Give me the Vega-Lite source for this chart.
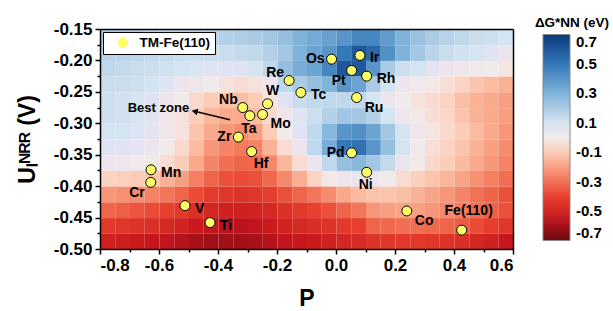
{
  "$schema": "https://vega.github.io/schema/vega-lite/v6.json",
  "width": 413,
  "height": 220,
  "autosize": {"type": "none"},
  "padding": {"left": 100, "top": 29, "right": 100, "bottom": 62},
  "background": "white",
  "config": {
    "locale": {"number": {"decimal": ".", "thousands": ",", "grouping": [3], "currency": ["$", ""], "minus": "-"}},
    "view": {"stroke": null},
    "font": "Liberation Sans",
    "axis": {
      "labelFont": "Liberation Sans", "labelFontWeight": "bold", "labelFontSize": 17, "labelColor": "black",
      "tickColor": "black", "tickWidth": 1.5, "domainColor": "black", "domainWidth": 1.5,
      "titleFont": "Liberation Sans", "titleFontWeight": "bold", "titleColor": "black", "grid": false
    },
    "legend": {"labelFont": "Liberation Sans", "labelFontWeight": "bold", "labelColor": "black", "titleFont": "Liberation Sans", "titleFontWeight": "bold", "titleColor": "black"}
  },
  "datasets": {
    "grid": [
{"p":-0.775,"u":-0.1625,"g":0.2},{"p":-0.725,"u":-0.1625,"g":0.2},{"p":-0.675,"u":-0.1625,"g":0.19},{"p":-0.625,"u":-0.1625,"g":0.18},{"p":-0.575,"u":-0.1625,"g":0.17},{"p":-0.525,"u":-0.1625,"g":0.17},{"p":-0.475,"u":-0.1625,"g":0.17},{"p":-0.425,"u":-0.1625,"g":0.17},{"p":-0.375,"u":-0.1625,"g":0.18},{"p":-0.325,"u":-0.1625,"g":0.19},{"p":-0.275,"u":-0.1625,"g":0.2},{"p":-0.225,"u":-0.1625,"g":0.22},{"p":-0.175,"u":-0.1625,"g":0.25},{"p":-0.125,"u":-0.1625,"g":0.3},{"p":-0.075,"u":-0.1625,"g":0.33},{"p":-0.025,"u":-0.1625,"g":0.36},{"p":0.025,"u":-0.1625,"g":0.4},{"p":0.075,"u":-0.1625,"g":0.45},{"p":0.125,"u":-0.1625,"g":0.45},{"p":0.175,"u":-0.1625,"g":0.38},{"p":0.225,"u":-0.1625,"g":0.3},{"p":0.275,"u":-0.1625,"g":0.24},{"p":0.325,"u":-0.1625,"g":0.2},{"p":0.375,"u":-0.1625,"g":0.17},{"p":0.425,"u":-0.1625,"g":0.15},{"p":0.475,"u":-0.1625,"g":0.13},{"p":0.525,"u":-0.1625,"g":0.12},{"p":0.575,"u":-0.1625,"g":0.1},
{"p":-0.775,"u":-0.1875,"g":0.17},{"p":-0.725,"u":-0.1875,"g":0.17},{"p":-0.675,"u":-0.1875,"g":0.16},{"p":-0.625,"u":-0.1875,"g":0.15},{"p":-0.575,"u":-0.1875,"g":0.14},{"p":-0.525,"u":-0.1875,"g":0.13},{"p":-0.475,"u":-0.1875,"g":0.13},{"p":-0.425,"u":-0.1875,"g":0.13},{"p":-0.375,"u":-0.1875,"g":0.13},{"p":-0.325,"u":-0.1875,"g":0.14},{"p":-0.275,"u":-0.1875,"g":0.15},{"p":-0.225,"u":-0.1875,"g":0.18},{"p":-0.175,"u":-0.1875,"g":0.22},{"p":-0.125,"u":-0.1875,"g":0.3},{"p":-0.075,"u":-0.1875,"g":0.35},{"p":-0.025,"u":-0.1875,"g":0.4},{"p":0.025,"u":-0.1875,"g":0.5},{"p":0.075,"u":-0.1875,"g":0.6},{"p":0.125,"u":-0.1875,"g":0.55},{"p":0.175,"u":-0.1875,"g":0.42},{"p":0.225,"u":-0.1875,"g":0.3},{"p":0.275,"u":-0.1875,"g":0.22},{"p":0.325,"u":-0.1875,"g":0.16},{"p":0.375,"u":-0.1875,"g":0.13},{"p":0.425,"u":-0.1875,"g":0.11},{"p":0.475,"u":-0.1875,"g":0.1},{"p":0.525,"u":-0.1875,"g":0.08},{"p":0.575,"u":-0.1875,"g":0.06},
{"p":-0.775,"u":-0.2125,"g":0.15},{"p":-0.725,"u":-0.2125,"g":0.14},{"p":-0.675,"u":-0.2125,"g":0.13},{"p":-0.625,"u":-0.2125,"g":0.12},{"p":-0.575,"u":-0.2125,"g":0.11},{"p":-0.525,"u":-0.2125,"g":0.1},{"p":-0.475,"u":-0.2125,"g":0.09},{"p":-0.425,"u":-0.2125,"g":0.08},{"p":-0.375,"u":-0.2125,"g":0.08},{"p":-0.325,"u":-0.2125,"g":0.08},{"p":-0.275,"u":-0.2125,"g":0.1},{"p":-0.225,"u":-0.2125,"g":0.15},{"p":-0.175,"u":-0.2125,"g":0.25},{"p":-0.125,"u":-0.2125,"g":0.32},{"p":-0.075,"u":-0.2125,"g":0.35},{"p":-0.025,"u":-0.2125,"g":0.45},{"p":0.025,"u":-0.2125,"g":0.6},{"p":0.075,"u":-0.2125,"g":0.6},{"p":0.125,"u":-0.2125,"g":0.4},{"p":0.175,"u":-0.2125,"g":0.2},{"p":0.225,"u":-0.2125,"g":0.12},{"p":0.275,"u":-0.2125,"g":0.1},{"p":0.325,"u":-0.2125,"g":0.07},{"p":0.375,"u":-0.2125,"g":0.05},{"p":0.425,"u":-0.2125,"g":0.03},{"p":0.475,"u":-0.2125,"g":0.01},{"p":0.525,"u":-0.2125,"g":0},{"p":0.575,"u":-0.2125,"g":-0.02},
{"p":-0.775,"u":-0.2375,"g":0.13},{"p":-0.725,"u":-0.2375,"g":0.13},{"p":-0.675,"u":-0.2375,"g":0.12},{"p":-0.625,"u":-0.2375,"g":0.1},{"p":-0.575,"u":-0.2375,"g":0.08},{"p":-0.525,"u":-0.2375,"g":0.05},{"p":-0.475,"u":-0.2375,"g":0.03},{"p":-0.425,"u":-0.2375,"g":0},{"p":-0.375,"u":-0.2375,"g":-0.03},{"p":-0.325,"u":-0.2375,"g":-0.05},{"p":-0.275,"u":-0.2375,"g":-0.03},{"p":-0.225,"u":-0.2375,"g":0.05},{"p":-0.175,"u":-0.2375,"g":0.15},{"p":-0.125,"u":-0.2375,"g":0.2},{"p":-0.075,"u":-0.2375,"g":0.25},{"p":-0.025,"u":-0.2375,"g":0.3},{"p":0.025,"u":-0.2375,"g":0.4},{"p":0.075,"u":-0.2375,"g":0.35},{"p":0.125,"u":-0.2375,"g":0.2},{"p":0.175,"u":-0.2375,"g":0.1},{"p":0.225,"u":-0.2375,"g":0.05},{"p":0.275,"u":-0.2375,"g":0.02},{"p":0.325,"u":-0.2375,"g":-0.01},{"p":0.375,"u":-0.2375,"g":-0.04},{"p":0.425,"u":-0.2375,"g":-0.08},{"p":0.475,"u":-0.2375,"g":-0.12},{"p":0.525,"u":-0.2375,"g":-0.14},{"p":0.575,"u":-0.2375,"g":-0.16},
{"p":-0.775,"u":-0.2625,"g":0.12},{"p":-0.725,"u":-0.2625,"g":0.11},{"p":-0.675,"u":-0.2625,"g":0.1},{"p":-0.625,"u":-0.2625,"g":0.08},{"p":-0.575,"u":-0.2625,"g":0.04},{"p":-0.525,"u":-0.2625,"g":0},{"p":-0.475,"u":-0.2625,"g":-0.06},{"p":-0.425,"u":-0.2625,"g":-0.1},{"p":-0.375,"u":-0.2625,"g":-0.13},{"p":-0.325,"u":-0.2625,"g":-0.13},{"p":-0.275,"u":-0.2625,"g":-0.1},{"p":-0.225,"u":-0.2625,"g":-0.02},{"p":-0.175,"u":-0.2625,"g":0.08},{"p":-0.125,"u":-0.2625,"g":0.13},{"p":-0.075,"u":-0.2625,"g":0.15},{"p":-0.025,"u":-0.2625,"g":0.15},{"p":0.025,"u":-0.2625,"g":0.15},{"p":0.075,"u":-0.2625,"g":0.15},{"p":0.125,"u":-0.2625,"g":0.1},{"p":0.175,"u":-0.2625,"g":0.05},{"p":0.225,"u":-0.2625,"g":0},{"p":0.275,"u":-0.2625,"g":-0.03},{"p":0.325,"u":-0.2625,"g":-0.05},{"p":0.375,"u":-0.2625,"g":-0.08},{"p":0.425,"u":-0.2625,"g":-0.13},{"p":0.475,"u":-0.2625,"g":-0.16},{"p":0.525,"u":-0.2625,"g":-0.18},{"p":0.575,"u":-0.2625,"g":-0.2},
{"p":-0.775,"u":-0.2875,"g":0.12},{"p":-0.725,"u":-0.2875,"g":0.11},{"p":-0.675,"u":-0.2875,"g":0.1},{"p":-0.625,"u":-0.2875,"g":0.07},{"p":-0.575,"u":-0.2875,"g":0.03},{"p":-0.525,"u":-0.2875,"g":-0.03},{"p":-0.475,"u":-0.2875,"g":-0.1},{"p":-0.425,"u":-0.2875,"g":-0.15},{"p":-0.375,"u":-0.2875,"g":-0.18},{"p":-0.325,"u":-0.2875,"g":-0.18},{"p":-0.275,"u":-0.2875,"g":-0.14},{"p":-0.225,"u":-0.2875,"g":-0.06},{"p":-0.175,"u":-0.2875,"g":0.03},{"p":-0.125,"u":-0.2875,"g":0.08},{"p":-0.075,"u":-0.2875,"g":0.12},{"p":-0.025,"u":-0.2875,"g":0.18},{"p":0.025,"u":-0.2875,"g":0.22},{"p":0.075,"u":-0.2875,"g":0.22},{"p":0.125,"u":-0.2875,"g":0.18},{"p":0.175,"u":-0.2875,"g":0.1},{"p":0.225,"u":-0.2875,"g":0.04},{"p":0.275,"u":-0.2875,"g":-0.01},{"p":0.325,"u":-0.2875,"g":-0.04},{"p":0.375,"u":-0.2875,"g":-0.07},{"p":0.425,"u":-0.2875,"g":-0.12},{"p":0.475,"u":-0.2875,"g":-0.16},{"p":0.525,"u":-0.2875,"g":-0.18},{"p":0.575,"u":-0.2875,"g":-0.2},
{"p":-0.775,"u":-0.3125,"g":0.1},{"p":-0.725,"u":-0.3125,"g":0.1},{"p":-0.675,"u":-0.3125,"g":0.09},{"p":-0.625,"u":-0.3125,"g":0.07},{"p":-0.575,"u":-0.3125,"g":0.03},{"p":-0.525,"u":-0.3125,"g":-0.03},{"p":-0.475,"u":-0.3125,"g":-0.12},{"p":-0.425,"u":-0.3125,"g":-0.18},{"p":-0.375,"u":-0.3125,"g":-0.22},{"p":-0.325,"u":-0.3125,"g":-0.24},{"p":-0.275,"u":-0.3125,"g":-0.2},{"p":-0.225,"u":-0.3125,"g":-0.1},{"p":-0.175,"u":-0.3125,"g":0},{"p":-0.125,"u":-0.3125,"g":0.08},{"p":-0.075,"u":-0.3125,"g":0.15},{"p":-0.025,"u":-0.3125,"g":0.28},{"p":0.025,"u":-0.3125,"g":0.4},{"p":0.075,"u":-0.3125,"g":0.42},{"p":0.125,"u":-0.3125,"g":0.35},{"p":0.175,"u":-0.3125,"g":0.22},{"p":0.225,"u":-0.3125,"g":0.1},{"p":0.275,"u":-0.3125,"g":0.03},{"p":0.325,"u":-0.3125,"g":-0.02},{"p":0.375,"u":-0.3125,"g":-0.06},{"p":0.425,"u":-0.3125,"g":-0.1},{"p":0.475,"u":-0.3125,"g":-0.14},{"p":0.525,"u":-0.3125,"g":-0.18},{"p":0.575,"u":-0.3125,"g":-0.22},
{"p":-0.775,"u":-0.3375,"g":0.08},{"p":-0.725,"u":-0.3375,"g":0.08},{"p":-0.675,"u":-0.3375,"g":0.07},{"p":-0.625,"u":-0.3375,"g":0.05},{"p":-0.575,"u":-0.3375,"g":0},{"p":-0.525,"u":-0.3375,"g":-0.06},{"p":-0.475,"u":-0.3375,"g":-0.14},{"p":-0.425,"u":-0.3375,"g":-0.22},{"p":-0.375,"u":-0.3375,"g":-0.26},{"p":-0.325,"u":-0.3375,"g":-0.28},{"p":-0.275,"u":-0.3375,"g":-0.26},{"p":-0.225,"u":-0.3375,"g":-0.16},{"p":-0.175,"u":-0.3375,"g":-0.05},{"p":-0.125,"u":-0.3375,"g":0.05},{"p":-0.075,"u":-0.3375,"g":0.15},{"p":-0.025,"u":-0.3375,"g":0.32},{"p":0.025,"u":-0.3375,"g":0.5},{"p":0.075,"u":-0.3375,"g":0.52},{"p":0.125,"u":-0.3375,"g":0.4},{"p":0.175,"u":-0.3375,"g":0.25},{"p":0.225,"u":-0.3375,"g":0.1},{"p":0.275,"u":-0.3375,"g":0.02},{"p":0.325,"u":-0.3375,"g":-0.04},{"p":0.375,"u":-0.3375,"g":-0.08},{"p":0.425,"u":-0.3375,"g":-0.12},{"p":0.475,"u":-0.3375,"g":-0.16},{"p":0.525,"u":-0.3375,"g":-0.2},{"p":0.575,"u":-0.3375,"g":-0.24},
{"p":-0.775,"u":-0.3625,"g":0.05},{"p":-0.725,"u":-0.3625,"g":0.04},{"p":-0.675,"u":-0.3625,"g":0.02},{"p":-0.625,"u":-0.3625,"g":-0.01},{"p":-0.575,"u":-0.3625,"g":-0.05},{"p":-0.525,"u":-0.3625,"g":-0.1},{"p":-0.475,"u":-0.3625,"g":-0.18},{"p":-0.425,"u":-0.3625,"g":-0.26},{"p":-0.375,"u":-0.3625,"g":-0.31},{"p":-0.325,"u":-0.3625,"g":-0.33},{"p":-0.275,"u":-0.3625,"g":-0.32},{"p":-0.225,"u":-0.3625,"g":-0.25},{"p":-0.175,"u":-0.3625,"g":-0.15},{"p":-0.125,"u":-0.3625,"g":-0.05},{"p":-0.075,"u":-0.3625,"g":0.05},{"p":-0.025,"u":-0.3625,"g":0.15},{"p":0.025,"u":-0.3625,"g":0.25},{"p":0.075,"u":-0.3625,"g":0.28},{"p":0.125,"u":-0.3625,"g":0.22},{"p":0.175,"u":-0.3625,"g":0.14},{"p":0.225,"u":-0.3625,"g":0.06},{"p":0.275,"u":-0.3625,"g":-0.01},{"p":0.325,"u":-0.3625,"g":-0.06},{"p":0.375,"u":-0.3625,"g":-0.1},{"p":0.425,"u":-0.3625,"g":-0.14},{"p":0.475,"u":-0.3625,"g":-0.18},{"p":0.525,"u":-0.3625,"g":-0.22},{"p":0.575,"u":-0.3625,"g":-0.26},
{"p":-0.775,"u":-0.3875,"g":-0.08},{"p":-0.725,"u":-0.3875,"g":-0.09},{"p":-0.675,"u":-0.3875,"g":-0.1},{"p":-0.625,"u":-0.3875,"g":-0.12},{"p":-0.575,"u":-0.3875,"g":-0.16},{"p":-0.525,"u":-0.3875,"g":-0.2},{"p":-0.475,"u":-0.3875,"g":-0.27},{"p":-0.425,"u":-0.3875,"g":-0.33},{"p":-0.375,"u":-0.3875,"g":-0.37},{"p":-0.325,"u":-0.3875,"g":-0.38},{"p":-0.275,"u":-0.3875,"g":-0.37},{"p":-0.225,"u":-0.3875,"g":-0.32},{"p":-0.175,"u":-0.3875,"g":-0.25},{"p":-0.125,"u":-0.3875,"g":-0.17},{"p":-0.075,"u":-0.3875,"g":-0.08},{"p":-0.025,"u":-0.3875,"g":-0.01},{"p":0.025,"u":-0.3875,"g":0.05},{"p":0.075,"u":-0.3875,"g":0.06},{"p":0.125,"u":-0.3875,"g":0.04},{"p":0.175,"u":-0.3875,"g":0},{"p":0.225,"u":-0.3875,"g":-0.05},{"p":0.275,"u":-0.3875,"g":-0.09},{"p":0.325,"u":-0.3875,"g":-0.12},{"p":0.375,"u":-0.3875,"g":-0.15},{"p":0.425,"u":-0.3875,"g":-0.19},{"p":0.475,"u":-0.3875,"g":-0.23},{"p":0.525,"u":-0.3875,"g":-0.27},{"p":0.575,"u":-0.3875,"g":-0.31},
{"p":-0.775,"u":-0.4125,"g":-0.22},{"p":-0.725,"u":-0.4125,"g":-0.23},{"p":-0.675,"u":-0.4125,"g":-0.24},{"p":-0.625,"u":-0.4125,"g":-0.26},{"p":-0.575,"u":-0.4125,"g":-0.29},{"p":-0.525,"u":-0.4125,"g":-0.33},{"p":-0.475,"u":-0.4125,"g":-0.38},{"p":-0.425,"u":-0.4125,"g":-0.42},{"p":-0.375,"u":-0.4125,"g":-0.44},{"p":-0.325,"u":-0.4125,"g":-0.45},{"p":-0.275,"u":-0.4125,"g":-0.44},{"p":-0.225,"u":-0.4125,"g":-0.41},{"p":-0.175,"u":-0.4125,"g":-0.37},{"p":-0.125,"u":-0.4125,"g":-0.33},{"p":-0.075,"u":-0.4125,"g":-0.29},{"p":-0.025,"u":-0.4125,"g":-0.24},{"p":0.025,"u":-0.4125,"g":-0.18},{"p":0.075,"u":-0.4125,"g":-0.14},{"p":0.125,"u":-0.4125,"g":-0.12},{"p":0.175,"u":-0.4125,"g":-0.12},{"p":0.225,"u":-0.4125,"g":-0.13},{"p":0.275,"u":-0.4125,"g":-0.16},{"p":0.325,"u":-0.4125,"g":-0.19},{"p":0.375,"u":-0.4125,"g":-0.22},{"p":0.425,"u":-0.4125,"g":-0.26},{"p":0.475,"u":-0.4125,"g":-0.3},{"p":0.525,"u":-0.4125,"g":-0.33},{"p":0.575,"u":-0.4125,"g":-0.37},
{"p":-0.775,"u":-0.4375,"g":-0.33},{"p":-0.725,"u":-0.4375,"g":-0.34},{"p":-0.675,"u":-0.4375,"g":-0.36},{"p":-0.625,"u":-0.4375,"g":-0.38},{"p":-0.575,"u":-0.4375,"g":-0.4},{"p":-0.525,"u":-0.4375,"g":-0.43},{"p":-0.475,"u":-0.4375,"g":-0.47},{"p":-0.425,"u":-0.4375,"g":-0.5},{"p":-0.375,"u":-0.4375,"g":-0.52},{"p":-0.325,"u":-0.4375,"g":-0.52},{"p":-0.275,"u":-0.4375,"g":-0.51},{"p":-0.225,"u":-0.4375,"g":-0.49},{"p":-0.175,"u":-0.4375,"g":-0.46},{"p":-0.125,"u":-0.4375,"g":-0.43},{"p":-0.075,"u":-0.4375,"g":-0.4},{"p":-0.025,"u":-0.4375,"g":-0.37},{"p":0.025,"u":-0.4375,"g":-0.33},{"p":0.075,"u":-0.4375,"g":-0.29},{"p":0.125,"u":-0.4375,"g":-0.22},{"p":0.175,"u":-0.4375,"g":-0.2},{"p":0.225,"u":-0.4375,"g":-0.19},{"p":0.275,"u":-0.4375,"g":-0.2},{"p":0.325,"u":-0.4375,"g":-0.22},{"p":0.375,"u":-0.4375,"g":-0.25},{"p":0.425,"u":-0.4375,"g":-0.28},{"p":0.475,"u":-0.4375,"g":-0.31},{"p":0.525,"u":-0.4375,"g":-0.34},{"p":0.575,"u":-0.4375,"g":-0.37},
{"p":-0.775,"u":-0.4625,"g":-0.43},{"p":-0.725,"u":-0.4625,"g":-0.44},{"p":-0.675,"u":-0.4625,"g":-0.45},{"p":-0.625,"u":-0.4625,"g":-0.47},{"p":-0.575,"u":-0.4625,"g":-0.49},{"p":-0.525,"u":-0.4625,"g":-0.51},{"p":-0.475,"u":-0.4625,"g":-0.54},{"p":-0.425,"u":-0.4625,"g":-0.56},{"p":-0.375,"u":-0.4625,"g":-0.57},{"p":-0.325,"u":-0.4625,"g":-0.57},{"p":-0.275,"u":-0.4625,"g":-0.56},{"p":-0.225,"u":-0.4625,"g":-0.54},{"p":-0.175,"u":-0.4625,"g":-0.51},{"p":-0.125,"u":-0.4625,"g":-0.49},{"p":-0.075,"u":-0.4625,"g":-0.47},{"p":-0.025,"u":-0.4625,"g":-0.45},{"p":0.025,"u":-0.4625,"g":-0.43},{"p":0.075,"u":-0.4625,"g":-0.4},{"p":0.125,"u":-0.4625,"g":-0.33},{"p":0.175,"u":-0.4625,"g":-0.32},{"p":0.225,"u":-0.4625,"g":-0.31},{"p":0.275,"u":-0.4625,"g":-0.31},{"p":0.325,"u":-0.4625,"g":-0.32},{"p":0.375,"u":-0.4625,"g":-0.33},{"p":0.425,"u":-0.4625,"g":-0.35},{"p":0.475,"u":-0.4625,"g":-0.38},{"p":0.525,"u":-0.4625,"g":-0.41},{"p":0.575,"u":-0.4625,"g":-0.44},
{"p":-0.775,"u":-0.4875,"g":-0.52},{"p":-0.725,"u":-0.4875,"g":-0.53},{"p":-0.675,"u":-0.4875,"g":-0.54},{"p":-0.625,"u":-0.4875,"g":-0.55},{"p":-0.575,"u":-0.4875,"g":-0.56},{"p":-0.525,"u":-0.4875,"g":-0.58},{"p":-0.475,"u":-0.4875,"g":-0.6},{"p":-0.425,"u":-0.4875,"g":-0.61},{"p":-0.375,"u":-0.4875,"g":-0.61},{"p":-0.325,"u":-0.4875,"g":-0.61},{"p":-0.275,"u":-0.4875,"g":-0.6},{"p":-0.225,"u":-0.4875,"g":-0.58},{"p":-0.175,"u":-0.4875,"g":-0.56},{"p":-0.125,"u":-0.4875,"g":-0.55},{"p":-0.075,"u":-0.4875,"g":-0.54},{"p":-0.025,"u":-0.4875,"g":-0.52},{"p":0.025,"u":-0.4875,"g":-0.5},{"p":0.075,"u":-0.4875,"g":-0.48},{"p":0.125,"u":-0.4875,"g":-0.45},{"p":0.175,"u":-0.4875,"g":-0.44},{"p":0.225,"u":-0.4875,"g":-0.43},{"p":0.275,"u":-0.4875,"g":-0.43},{"p":0.325,"u":-0.4875,"g":-0.44},{"p":0.375,"u":-0.4875,"g":-0.45},{"p":0.425,"u":-0.4875,"g":-0.47},{"p":0.475,"u":-0.4875,"g":-0.5},{"p":0.525,"u":-0.4875,"g":-0.52},{"p":0.575,"u":-0.4875,"g":-0.55}
    ],
    "elements": [
      {"name": "Os", "p": -0.015, "u": -0.198},
      {"name": "Ir", "p": 0.081, "u": -0.192},
      {"name": "Pt", "p": 0.053, "u": -0.216},
      {"name": "Rh", "p": 0.104, "u": -0.225},
      {"name": "Ru", "p": 0.07, "u": -0.259},
      {"name": "Tc", "p": -0.119, "u": -0.251},
      {"name": "Re", "p": -0.159, "u": -0.232},
      {"name": "W", "p": -0.232, "u": -0.269},
      {"name": "Nb", "p": -0.316, "u": -0.275},
      {"name": "Ta", "p": -0.292, "u": -0.288},
      {"name": "Mo", "p": -0.249, "u": -0.286},
      {"name": "Zr", "p": -0.331, "u": -0.322},
      {"name": "Hf", "p": -0.286, "u": -0.345},
      {"name": "Mn", "p": -0.627, "u": -0.374},
      {"name": "Cr", "p": -0.628, "u": -0.394},
      {"name": "V", "p": -0.512, "u": -0.431},
      {"name": "Ti", "p": -0.427, "u": -0.458},
      {"name": "Pd", "p": 0.053, "u": -0.347},
      {"name": "Ni", "p": 0.104, "u": -0.378},
      {"name": "Co", "p": 0.24, "u": -0.4395},
      {"name": "Fe(110)", "p": 0.426, "u": -0.47}
    ],
    "arrow": [{"p": -0.3593, "u": -0.2943, "p2": -0.476, "u2": -0.2814}],
    "note": [{"p": -0.602, "u": -0.276, "text": "Best zone"}]
  },
  "resolve": {"axis": {"x": "independent", "y": "independent"}},
  "layer": [
    {
      "data": {"name": "grid"},
      "mark": {"type": "rect"},
      "encoding": {
        "x": {"field": "p", "type": "quantitative", "bin": {"step": 0.05, "extent": [-0.8, 0.6]},
              "scale": {"domain": [-0.8, 0.6], "nice": false, "zero": false},
              "axis": {"orient": "bottom", "values": [-0.7, -0.5, -0.3, -0.1, 0.1, 0.3, 0.5], "labels": false, "domain": false, "tickSize": 3, "title": null, "zindex": 1}},
        "y": {"field": "u", "type": "quantitative", "bin": {"step": 0.025, "extent": [-0.5, -0.15]},
              "scale": {"domain": [-0.5, -0.15], "nice": false, "zero": false},
              "axis": {"orient": "left", "values": [-0.475, -0.425, -0.375, -0.325, -0.275, -0.225, -0.175], "labels": false, "domain": false, "tickSize": 3, "title": null, "zindex": 1}},
        "color": {"field": "g", "type": "quantitative",
          "scale": {"domain": [-0.7, -0.55, -0.4, -0.25, -0.1, 0, 0.1, 0.3, 0.5, 0.7],
                    "range": ["#6b0a12", "#c8161d", "#e8402f", "#f5876b", "#fbcdb7", "#f0ebea", "#d5e4f1", "#7fb3d9", "#3478b8", "#0a3a7c"]},
          "legend": {"orient": "none", "legendX": 435, "legendY": -13, "direction": "vertical", "title": "ΔG*NN (eV)",
                     "titleFontSize": 13.5, "titleAnchor": "middle", "titlePadding": 5, "titleLimit": 120, "gradientLength": 206, "gradientThickness": 27,
                     "gradientStrokeColor": "#888", "gradientStrokeWidth": 1, "values": [-0.7, -0.5, -0.3, -0.1, 0.1, 0.3, 0.5, 0.7],
                     "format": ".1f", "labelFontSize": 15, "labelOffset": 6}}
      }
    },
    {
      "data": {"name": "arrow"},
      "mark": {"type": "rule", "color": "black", "strokeWidth": 1.5},
      "encoding": {
        "x": {"field": "p", "type": "quantitative", "axis": null},
        "y": {"field": "u", "type": "quantitative", "axis": null},
        "x2": {"field": "p2"},
        "y2": {"field": "u2"}
      }
    },
    {
      "data": {"name": "arrow"},
      "mark": {"type": "point", "shape": "triangle", "angle": 283, "size": 45, "filled": true, "color": "black", "opacity": 1},
      "encoding": {
        "x": {"field": "p2", "type": "quantitative", "axis": null},
        "y": {"field": "u2", "type": "quantitative", "axis": null}
      }
    },
    {
      "data": {"name": "note"},
      "mark": {"type": "text", "fontSize": 13, "fontWeight": "bold", "font": "Liberation Sans", "align": "center", "baseline": "middle", "color": "black"},
      "encoding": {
        "x": {"field": "p", "type": "quantitative", "axis": null},
        "y": {"field": "u", "type": "quantitative", "axis": null},
        "text": {"field": "text"}
      }
    },
    {
      "data": {"name": "elements"},
      "mark": {"type": "point", "filled": true, "fill": "#ffff66", "stroke": "black", "strokeWidth": 1, "size": 100, "opacity": 1},
      "encoding": {
        "x": {"field": "p", "type": "quantitative",
              "axis": {"orient": "bottom", "values": [-0.8, -0.6, -0.4, -0.2, 0, 0.2, 0.4, 0.6], "format": ".1f", "tickSize": 5, "labelPadding": 3, "title": "P", "titleFontSize": 23, "titlePadding": 14, "zindex": 1}},
        "y": {"field": "u", "type": "quantitative",
              "axis": {"orient": "left", "values": [-0.5, -0.45, -0.4, -0.35, -0.3, -0.25, -0.2, -0.15], "format": ".2f", "tickSize": 5, "labelPadding": 3, "title": "Uₗᴺᴿᴿ (V)", "titleFontSize": 23, "titlePadding": 14, "zindex": 1}},
        "shape": {"datum": "TM-Fe(110)", "type": "nominal", "scale": {"range": ["circle"]},
          "legend": {"orient": "top-left", "offset": 3, "title": null, "fillColor": "white", "strokeColor": "black", "padding": 4,
                     "symbolOffset": 9, "labelOffset": 10, "symbolSize": 100, "symbolFillColor": "#ffff66", "symbolStrokeColor": "black",
                     "symbolStrokeWidth": 1, "labelFontSize": 13.5}}
      }
    },
    {
      "data": {"name": "elements"},
      "transform": [{"filter": {"field": "name", "oneOf": ["Ir", "Rh", "Tc", "V", "Mn", "Ti"]}}],
      "mark": {"type": "text", "align": "left", "baseline": "middle", "dx": 10, "dy": 3, "fontSize": 14, "fontWeight": "bold", "font": "Liberation Sans", "color": "black"},
      "encoding": {
        "x": {"field": "p", "type": "quantitative", "axis": {"orient": "top", "labels": false, "ticks": false, "title": null, "domainWidth": 1.5, "zindex": 1}},
        "y": {"field": "u", "type": "quantitative", "axis": {"orient": "right", "labels": false, "ticks": false, "title": null, "domainWidth": 1.5, "zindex": 1}},
        "text": {"field": "name"}
      }
    },
    {
      "data": {"name": "elements"},
      "transform": [{"filter": {"field": "name", "oneOf": ["Os", "Zr", "Pd"]}}],
      "mark": {"type": "text", "align": "right", "baseline": "middle", "dx": -7, "dy": 0, "fontSize": 14, "fontWeight": "bold", "font": "Liberation Sans", "color": "black"},
      "encoding": {"x": {"field": "p", "type": "quantitative", "axis": null}, "y": {"field": "u", "type": "quantitative", "axis": null}, "text": {"field": "name"}}
    },
    {
      "data": {"name": "elements"},
      "transform": [{"filter": {"field": "name", "oneOf": ["Ru", "Mo", "Co"]}}],
      "mark": {"type": "text", "align": "left", "baseline": "middle", "dx": 8, "dy": 10, "fontSize": 14, "fontWeight": "bold", "font": "Liberation Sans", "color": "black"},
      "encoding": {"x": {"field": "p", "type": "quantitative", "axis": null}, "y": {"field": "u", "type": "quantitative", "axis": null}, "text": {"field": "name"}}
    },
    {
      "data": {"name": "elements"},
      "transform": [{"filter": {"field": "name", "oneOf": ["Hf"]}}],
      "mark": {"type": "text", "align": "left", "baseline": "middle", "dx": 2, "dy": 12, "fontSize": 14, "fontWeight": "bold", "font": "Liberation Sans", "color": "black"},
      "encoding": {"x": {"field": "p", "type": "quantitative", "axis": null}, "y": {"field": "u", "type": "quantitative", "axis": null}, "text": {"field": "name"}}
    },
    {
      "data": {"name": "elements"},
      "transform": [{"filter": {"field": "name", "oneOf": ["Pt", "Cr"]}}],
      "mark": {"type": "text", "align": "right", "baseline": "middle", "dx": -6, "dy": 11, "fontSize": 14, "fontWeight": "bold", "font": "Liberation Sans", "color": "black"},
      "encoding": {"x": {"field": "p", "type": "quantitative", "axis": null}, "y": {"field": "u", "type": "quantitative", "axis": null}, "text": {"field": "name"}}
    },
    {
      "data": {"name": "elements"},
      "transform": [{"filter": {"field": "name", "oneOf": ["Re", "Nb"]}}],
      "mark": {"type": "text", "align": "right", "baseline": "middle", "dx": -5, "dy": -8, "fontSize": 14, "fontWeight": "bold", "font": "Liberation Sans", "color": "black"},
      "encoding": {"x": {"field": "p", "type": "quantitative", "axis": null}, "y": {"field": "u", "type": "quantitative", "axis": null}, "text": {"field": "name"}}
    },
    {
      "data": {"name": "elements"},
      "transform": [{"filter": {"field": "name", "oneOf": ["W"]}}],
      "mark": {"type": "text", "align": "center", "baseline": "middle", "dx": 5, "dy": -13, "fontSize": 14, "fontWeight": "bold", "font": "Liberation Sans", "color": "black"},
      "encoding": {"x": {"field": "p", "type": "quantitative", "axis": null}, "y": {"field": "u", "type": "quantitative", "axis": null}, "text": {"field": "name"}}
    },
    {
      "data": {"name": "elements"},
      "transform": [{"filter": {"field": "name", "oneOf": ["Fe(110)"]}}],
      "mark": {"type": "text", "align": "center", "baseline": "middle", "dx": 7, "dy": -19, "fontSize": 14, "fontWeight": "bold", "font": "Liberation Sans", "color": "black"},
      "encoding": {"x": {"field": "p", "type": "quantitative", "axis": null}, "y": {"field": "u", "type": "quantitative", "axis": null}, "text": {"field": "name"}}
    },
    {
      "data": {"name": "elements"},
      "transform": [{"filter": {"field": "name", "oneOf": ["Ta", "Ni"]}}],
      "mark": {"type": "text", "align": "center", "baseline": "middle", "dx": -1, "dy": 13, "fontSize": 14, "fontWeight": "bold", "font": "Liberation Sans", "color": "black"},
      "encoding": {"x": {"field": "p", "type": "quantitative", "axis": null}, "y": {"field": "u", "type": "quantitative", "axis": null}, "text": {"field": "name"}}
    }
  ]
}
